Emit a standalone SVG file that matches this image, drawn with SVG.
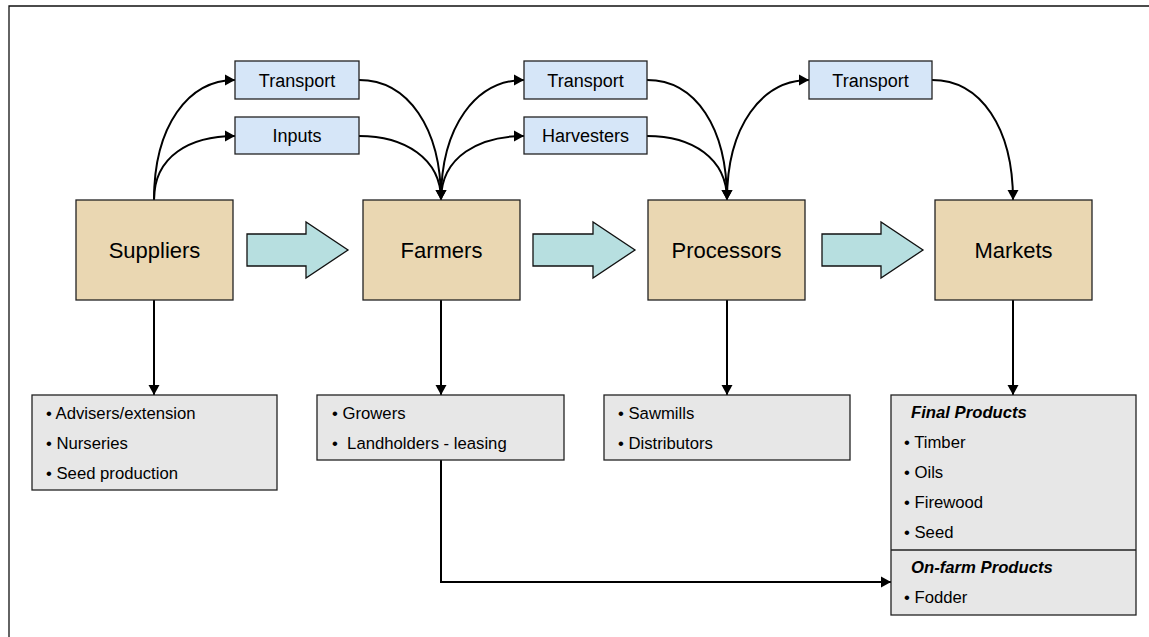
<svg xmlns="http://www.w3.org/2000/svg" width="1149" height="637" viewBox="0 0 1149 637">
<style>
text{font-family:"Liberation Sans",Arial,sans-serif;fill:#000}
.main rect{fill:#ead7b2;stroke:#222;stroke-width:1.3}
.main text{font-size:22px;text-anchor:middle}
.svc rect{fill:#d6e6f8;stroke:#222;stroke-width:1.3}
.svc text{font-size:18px;text-anchor:middle}
.list rect,.list line{fill:#e7e7e7;stroke:#222;stroke-width:1.3}
.list text{font-size:16.7px}
.hd{font-weight:bold;font-style:italic}
.flow{fill:#b7dfe0;stroke:#111;stroke-width:1.3}
#connectors path{fill:none;stroke:#000;stroke-width:2;marker-end:url(#ah)}
</style>
<defs>
<marker id="ah" markerUnits="userSpaceOnUse" markerWidth="12" markerHeight="12" refX="10" refY="6" orient="auto">
<path d="M0,0.5 L10,6 L0,11.5 z" fill="#000"/>
</marker>
</defs>
<rect width="1149" height="637" fill="#fff"/>
<path d="M9,637 V6 H1149" fill="none" stroke="#111" stroke-width="1.3"/>

<g id="flow-arrows">
<polygon class="flow" points="247,234 306,234 306,222 348,250 306,278 306,266 247,266"/>
<polygon class="flow" points="533,234 593,234 593,222 635,250 593,278 593,266 533,266"/>
<polygon class="flow" points="822,234 881,234 881,222 923,250 881,278 881,266 822,266"/>
</g>

<g id="connectors">
<path d="M154,200 C154,126 188,80 235,80"/>
<path d="M154,200 C154,156 190,136 235,136"/>
<path d="M359,80 C408,80 441,128 441,200"/>
<path d="M359,136 C404,136 441,158 441,200"/>
<path d="M441,200 C441,126 476,80 524,80"/>
<path d="M441,200 C441,156 480,136 524,136"/>
<path d="M647,80 C696,80 727,128 727,200"/>
<path d="M647,136 C692,136 727,158 727,200"/>
<path d="M727,200 C727,126 762,80 809,80"/>
<path d="M932,80 C981,80 1013,128 1013,200"/>
<path d="M154,300 V395"/>
<path d="M441,300 V395"/>
<path d="M727,300 V395"/>
<path d="M1013,300 V395"/>
<path d="M441,460 V582 H891"/>
</g>

<g id="suppliers" class="main"><rect x="76" y="200" width="157" height="100"/><text x="154.5" y="258">Suppliers</text></g>
<g id="farmers" class="main"><rect x="363" y="200" width="157" height="100"/><text x="441.5" y="258">Farmers</text></g>
<g id="processors" class="main"><rect x="648" y="200" width="157" height="100"/><text x="726.5" y="258">Processors</text></g>
<g id="markets" class="main"><rect x="935" y="200" width="157" height="100"/><text x="1013.5" y="258">Markets</text></g>

<g id="transport1" class="svc"><rect x="235" y="61" width="124" height="38"/><text x="297" y="87">Transport</text></g>
<g id="inputs" class="svc"><rect x="235" y="117" width="124" height="37"/><text x="297" y="142">Inputs</text></g>
<g id="transport2" class="svc"><rect x="524" y="61" width="123" height="38"/><text x="585.5" y="87">Transport</text></g>
<g id="harvesters" class="svc"><rect x="524" y="117" width="123" height="37"/><text x="585.5" y="142">Harvesters</text></g>
<g id="transport3" class="svc"><rect x="809" y="61" width="123" height="38"/><text x="870.5" y="87">Transport</text></g>

<g id="supplier-list" class="list"><rect x="32" y="395" width="245" height="95"/>
<text x="46" y="419">• Advisers/extension</text>
<text x="46" y="449">• Nurseries</text>
<text x="46" y="479">• Seed production</text></g>
<g id="farmer-list" class="list"><rect x="317" y="395" width="247" height="65"/>
<text x="332" y="419">• Growers</text>
<text x="332" y="449" xml:space="preserve">•  Landholders - leasing</text></g>
<g id="processor-list" class="list"><rect x="604" y="395" width="246" height="65"/>
<text x="618" y="419">• Sawmills</text>
<text x="618" y="449">• Distributors</text></g>
<g id="market-list" class="list"><rect x="891" y="395" width="245" height="220"/>
<line x1="891" y1="550" x2="1136" y2="550"/>
<text class="hd" x="911" y="418">Final Products</text>
<text x="904" y="448">• Timber</text>
<text x="904" y="478">• Oils</text>
<text x="904" y="508">• Firewood</text>
<text x="904" y="538">• Seed</text>
<text class="hd" x="911" y="573">On-farm Products</text>
<text x="904" y="603">• Fodder</text></g>
</svg>
